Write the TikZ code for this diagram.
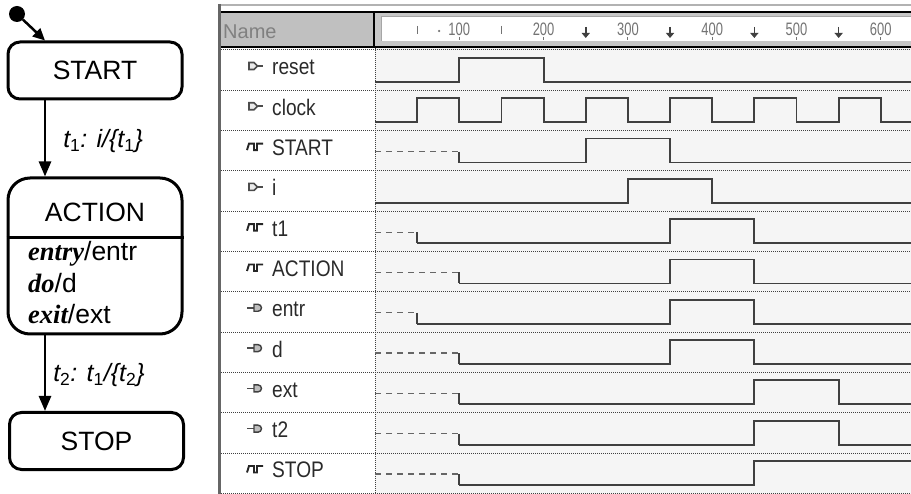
\documentclass[tikz,border=0pt]{standalone}
\usepackage{fontspec}
\setmainfont{Liberation Sans}
\newfontfamily\actfont{Liberation Serif}
\newfontfamily\chartfont[FakeStretch=0.85]{Liberation Sans}
\newfontfamily\tickfont[FakeStretch=0.72]{Liberation Sans}
\usepackage{xcolor}
\usepackage{tikz}
\usetikzlibrary{arrows.meta,positioning,calc}

\definecolor{wavebg}{HTML}{F5F5F5}
\definecolor{hdrgray}{HTML}{C0C0C0}
\definecolor{sigline}{HTML}{404040}
\definecolor{lblgray}{HTML}{2A2A2A}

\begin{document}
\begin{tikzpicture}[x=1pt,y=-1pt,
  statebox/.style={draw,line width=3pt,rounded corners=12pt,minimum width=174pt,
    minimum height=57pt,inner sep=0pt,font=\fontsize{26.5}{30}\selectfont},
  trans/.style={line width=2.5pt,-{Triangle[length=15pt,width=12pt]}},
  translabel/.style={inner sep=0pt,font=\fontsize{25}{30}\selectfont\itshape},
  actline/.style={anchor=base west,inner sep=0pt,font=\fontsize{26.5}{30}\selectfont},
  sig/.style={draw=sigline,line width=1.8pt},
  undef/.style={draw=sigline!80,line width=1.2pt,dash pattern=on 6pt off 5pt},
  rowsep/.style={draw=black!75,line width=1pt,dash pattern=on 1pt off 1pt},
  siglabel/.style={anchor=base west,inner sep=0pt,text=lblgray,
    font=\chartfont\fontsize{22.5}{26}\selectfont},
  ticklabel/.style={anchor=base,inner sep=0pt,text=black!55,
    font=\tickfont\fontsize{18}{20}\selectfont},
  pics/pinin/.style={code={
    \draw[black!70,line width=1.6pt,fill=black!8] (-8,-3.5) -- (-3,-3.5) -- (0.5,0) -- (-3,3.5) -- (-8,3.5) -- cycle;
    \draw[black!70,line width=1.6pt] (0.5,0) -- (6,0);}},
  pics/pinout/.style={code={
    \draw[black!70,line width=1.6pt] (-10,0) -- (-3,0);
    \draw[black!75,line width=1.4pt,fill=black!25] (-3,-3.5) -- (1,-3.5) arc (-90:90:3.5) -- (-3,3.5) -- cycle;}},
  pics/pinbur/.style={code={
    \draw[black!85,line width=1.9pt] (-10,3.5) -- (-8,-3) -- (-3,-3) -- (-3,3.5) -- (0,3.5) -- (0,-3) -- (6,-3);}}
]
\useasboundingbox (0,0) rectangle (911,494);

% state machine
\node[circle,fill,minimum size=16pt,inner sep=0pt] (init) at (17,14) {};
\node[statebox] (start) at (95,70.5) {START};
\node[statebox,rounded corners=22pt,minimum height=156pt] (action) at (95,256) {};
\node[inner sep=0pt,font=\fontsize{26.5}{30}\selectfont] (actname) at (95,212) {ACTION};
\node[statebox] (stop) at (96.5,441) {STOP};
\coordinate (arrx) at (45,0);
\coordinate (sepy) at (0,238);
\draw[line width=3pt] (action.west |- sepy) -- (action.east |- sepy);
\node[actline] (entry) at (28,261) {{\actfont\bfseries\itshape entry}/entr};
\node[actline] (doact) at (28,293) {{\actfont\bfseries\itshape do}/d};
\node[actline] (exit) at (28,324) {{\actfont\bfseries\itshape exit}/ext};

\draw[line width=2.5pt,-{Triangle[length=12pt,width=11pt]}] (init) -- (start.north -| arrx);
\draw[trans] (start.south -| arrx) -- node[translabel,right=17pt,yshift=-3pt] (lab1)
  {t\textsubscript{\upshape 1}: i/\{t\textsubscript{\upshape 1}\}} (action.north -| arrx);
\draw[trans] (action.south -| arrx) -- node[translabel,right=7pt,yshift=-2pt] (lab2)
  {t\textsubscript{\upshape 2}: t\textsubscript{\upshape 1}/\{t\textsubscript{\upshape 2}\}} (stop.north -| arrx);

% timing chart: frame and header
\fill[wavebg] (375,48) rectangle (911,494);
\draw[black!30,line width=1.5pt] (219,5) -- (911,5);
\fill[hdrgray] (219,12) rectangle (374,47);
\fill[black!22] (374,12) rectangle (911,47);
\fill[white] (381,16) rectangle (911,41);
\draw[black!35,line width=0.8pt] (381,41) -- (381,16) -- (911,16);
\draw[black,line width=1.2pt] (219,12) -- (911,12);
\draw[black,line width=1.2pt] (219,47) -- (911,47);
\draw[black,line width=1.2pt] (374,12) -- (374,47);
\draw[black!60,line width=3pt] (219.5,4) -- (219.5,494);
\node[anchor=base west,inner sep=0pt,text=black!50,font=\fontsize{20}{24}\selectfont] (namehdr) at (223,39) {Name};

% row separators
\foreach \k in {0,...,11}
  \draw[rowsep] (221,{50+40.3*\k}) -- (911,{50+40.3*\k});
\draw[rowsep] (375,48) -- (375,494);

% pins and signal names
\foreach \k in {0,1,3}
  \pic at (257,{50+40.3*\k+16}) {pinin};
\foreach \k in {2,4,5,10}
  \pic at (257,{50+40.3*\k+16}) {pinbur};
\foreach \k in {6,7,8,9}
  \pic at (257,{50+40.3*\k+16}) {pinout};
\foreach \k/\name in {0/reset,1/clock,2/START,3/i,4/t1,5/ACTION,6/entr,7/d,8/ext,9/t2,10/STOP}
  \node[siglabel] (sig\k) at (272,{50+40.3*\k+25}) {\name};

% time axis and waveforms
\begin{scope}[shift={(375,0)},x=0.843pt]
  \foreach \t in {100,200,...,600} {
    \node[ticklabel] (tick\t) at (\t,36) {\t};
    \draw[black!55,line width=1pt] (\t,37) -- (\t,40);
  }
  \foreach \t in {50,150}
    \draw[black!55,line width=1.2pt] (\t,26) -- (\t,34);
  \fill[black!55] (76,31) circle (1.2pt);
  \foreach \t in {250,350,450,550}
    \draw[sigline,line width=1.5pt,-{Triangle[length=5pt,width=8pt]}] (\t,27) -- (\t,38);

  \draw[sig] (0,122.3) foreach \a in {50,150,...,550}
    { -- (\a,122.3) -- (\a,98.3) -- ({\a+50},98.3) -- ({\a+50},122.3) } -- (640,122.3);
  \foreach \k/\lead/\rise/\fall in {0/0/100/200,2/100/250/350,3/0/300/400,4/50/350/450,
      5/100/350/450,6/50/350/450,7/100/350/450,8/100/450/550,9/100/450/550,10/100/450/700} {
    \pgfmathsetmacro\lo{50+40.3*\k+32}
    \pgfmathsetmacro\hi{50+40.3*\k+8}
    \pgfmathsetmacro\md{50+40.3*\k+21}
    \ifnum\lead>0
      \draw[undef] (0,\md) -- (\lead,\md);
      \draw[sig] (\lead,\md) -- (\lead,\lo);
    \fi
    \draw[sig] (\lead,\lo) -- (\rise,\lo) -- (\rise,\hi) -- (\fall,\hi) -- (\fall,\lo) -- (640,\lo);
  }
\end{scope}
\end{tikzpicture}
\end{document}
